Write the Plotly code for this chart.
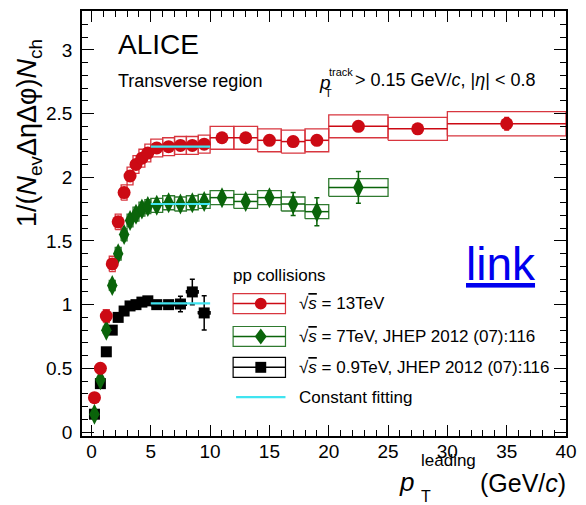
import plotly.graph_objects as go

# ---------------- data ----------------
# 13 TeV
x13 = [0.25, 0.75, 1.25, 1.75, 2.25, 2.75, 3.25, 3.75, 4.25, 4.75,
       5.5, 6.5, 7.5, 8.5, 9.5, 11, 13, 15, 17, 19, 22.5, 27.5, 35]
xw13 = [0.25]*10 + [0.5]*5 + [1.0]*5 + [2.5, 2.5, 5.0]
y13 = [0.27, 0.50, 0.91, 1.32, 1.65, 1.88, 2.01, 2.10, 2.15, 2.19,
       2.23, 2.24, 2.25, 2.25, 2.26, 2.31, 2.31, 2.29, 2.28, 2.29, 2.40, 2.38, 2.42]
stat13 = [0.01]*15 + [0.01, 0.01, 0.01, 0.01, 0.01, 0.02, 0.02, 0.05]
sys13 = [0.02, 0.03, 0.05, 0.06, 0.06, 0.06, 0.07, 0.07, 0.07, 0.07,
         0.07, 0.07, 0.07, 0.07, 0.07, 0.09, 0.09, 0.09, 0.09, 0.09, 0.09, 0.09, 0.095]

# 7 TeV
x7 = [0.25, 0.75, 1.25, 1.75, 2.25, 2.75, 3.25, 3.75, 4.25, 4.75,
      5.5, 6.5, 7.5, 8.5, 9.5, 11, 13, 15, 17, 19, 22.5]
xw7 = [0.25]*10 + [0.5]*5 + [1.0]*5 + [2.5]
y7 = [0.14, 0.41, 0.80, 1.15, 1.40, 1.55, 1.66, 1.71, 1.75, 1.77,
      1.78, 1.80, 1.79, 1.80, 1.81, 1.84, 1.81, 1.84, 1.79, 1.73, 1.92]
stat7 = [0.01]*15 + [0.03, 0.03, 0.04, 0.09, 0.11, 0.125]
sys7 = [0.01, 0.02, 0.03, 0.04, 0.05, 0.05, 0.05, 0.055, 0.055, 0.055,
        0.055, 0.055, 0.055, 0.055, 0.055, 0.055, 0.055, 0.055, 0.055, 0.055, 0.07]

# 0.9 TeV
x09 = [0.25, 0.75, 1.25, 1.75, 2.25, 2.75, 3.25, 3.75, 4.25, 4.75,
       5.5, 6.5, 7.5, 8.5, 9.5]
xw09 = [0.25]*10 + [0.5]*5
y09 = [0.14, 0.38, 0.63, 0.80, 0.90, 0.95, 0.99, 1.00, 1.02, 1.03,
       1.00, 1.00, 1.005, 1.10, 0.935]
stat09 = [0.01]*10 + [0.01, 0.02, 0.06, 0.10, 0.134]
sys09 = [0.01]*15

# constant fits (5-10 GeV/c)
fit_range = [5, 10]
fit_values = [2.24, 1.79, 1.01]

# ---------------- style ----------------
RED = "#cc0a14"
RED_BOX = "#d8363f"
GREEN = "#0a640a"
GREEN_BOX = "#2f7a2f"
BLACK = "#000000"
CYAN = "#40e4f0"
FONT = "Liberation Sans, Arial, Helvetica, sans-serif"

W, H = 586, 505
L, R, T, B = 82, 14, 9, 69
PW, PH = W - L - R, H - T - B


def xp(px):
    return (px - L) / PW


def yp(py):
    return (H - B - py) / PH


def box_path(xs, xw, ys, ss):
    bx, by = [], []
    for xc, w, yc, s in zip(xs, xw, ys, ss):
        bx += [xc - w, xc + w, xc + w, xc - w, xc - w, None]
        by += [yc - s, yc - s, yc + s, yc + s, yc - s, None]
    return bx, by


fig = go.Figure()

series = [
    (x09, xw09, y09, stat09, sys09, BLACK, BLACK, "square", 11),
    (x7, xw7, y7, stat7, sys7, GREEN, GREEN_BOX, "diamond-tall", 15),
    (x13, xw13, y13, stat13, sys13, RED, RED_BOX, "circle", 13),
]

for xs, xw, ys, st, sy, col, bcol, sym, sz in series:
    bx, by = box_path(xs, xw, ys, sy)
    fig.add_trace(go.Scatter(x=bx, y=by, mode="lines",
                             line=dict(color=bcol, width=1.3),
                             hoverinfo="skip", showlegend=False))

for xs, xw, ys, st, sy, col, bcol, sym, sz in series:
    fig.add_trace(go.Scatter(
        x=xs, y=ys, mode="markers",
        marker=dict(symbol=sym, size=sz, color=col, line=dict(width=0)),
        error_x=dict(type="data", array=xw, color=col, thickness=1.5, width=0),
        error_y=dict(type="data", array=st, color=col, thickness=1.5, width=2.5),
        showlegend=False))

for v in fit_values:
    fig.add_trace(go.Scatter(x=fit_range, y=[v, v], mode="lines",
                             line=dict(color=CYAN, width=2.2),
                             hoverinfo="skip", showlegend=False))

axis_common = dict(
    showline=True, linecolor="black", linewidth=1.5, mirror="allticks",
    ticks="inside", tickwidth=1.3, tickcolor="black",
    showgrid=False, zeroline=False,
    tickfont=dict(family=FONT, size=19, color="black"),
)

fig.update_xaxes(range=[-0.8, 40], dtick=5, tick0=0, ticklen=11,
                 minor=dict(dtick=1, ticklen=6, ticks="inside", tickcolor="black", tickwidth=1.2),
                 ticklabelstandoff=-3, **axis_common)
fig.update_yaxes(range=[-0.031, 3.305], dtick=0.5, tick0=0, ticklen=12,
                 minor=dict(dtick=0.1, ticklen=6, ticks="inside", tickcolor="black", tickwidth=1.2),
                 ticklabelstandoff=4, **axis_common)

ann = []


def text(px, py, s, size, xanchor="left", yanchor="middle", color="black", angle=0):
    ann.append(dict(x=xp(px), y=yp(py), xref="paper", yref="paper", text=s,
                    showarrow=False, xanchor=xanchor, yanchor=yanchor,
                    textangle=angle,
                    font=dict(family=FONT, size=size, color=color)))


text(116, 43, "ALICE", 28)
text(116, 79, "Transverse region", 18)
text(320, 81, "<i>p</i>", 19)
text(330, 70, "track", 11)
text(326, 91, "T", 11)
text(356, 78, "&gt; 0.15 GeV/<i>c</i>, |<i>η</i>| &lt; 0.8", 18)

# x title
text(401, 482, "<i>p</i>", 26)
text(423, 461, "leading", 17)
text(423, 497, "T", 16)
text(574, 483, "(GeV/<i>c</i>)", 25, xanchor="right")

# y title
text(29, 132, "1/(<i>N</i><sub>ev</sub>ΔηΔφ)<i>N</i><sub>ch</sub>", 27, xanchor="center", angle=-90)

# link
ann.append(dict(x=xp(506), y=yp(263), xref="paper", yref="paper",
                text="<a href='https://alice-publications.web.cern.ch/' style='color:#0000ee'><u>link</u></a>",
                showarrow=False, xanchor="center", yanchor="middle",
                font=dict(family=FONT, size=46, color="#0000ee")))

# legend
text(233, 275, "pp collisions", 17)
rows = [303, 336, 367, 397]
SQS = "√<span style='text-decoration:overline'><i>s</i></span>"
labels = [
    SQS + " = 13TeV",
    SQS + " = 7TeV, JHEP 2012 (07):116",
    SQS + " = 0.9TeV, JHEP 2012 (07):116",
    "Constant fitting",
]
for yy, lab in zip(rows, labels):
    text(300, yy, lab, 17)

shapes = []
leg_cols = [(RED, RED_BOX), (GREEN, GREEN_BOX), (BLACK, BLACK)]
for (col, bcol), yy in zip(leg_cols, rows[:3]):
    shapes.append(dict(type="rect", xref="paper", yref="paper",
                       x0=xp(235), x1=xp(288), y0=yp(yy + 10), y1=yp(yy - 10),
                       line=dict(color=bcol, width=1.2)))
    shapes.append(dict(type="line", xref="paper", yref="paper",
                       x0=xp(235), x1=xp(288), y0=yp(yy), y1=yp(yy),
                       line=dict(color=col, width=1.5)))
# legend markers
shapes.append(dict(type="circle", xref="paper", yref="paper",
                   x0=xp(257), x1=xp(269), y0=yp(rows[0] + 6), y1=yp(rows[0] - 6),
                   fillcolor=RED, line=dict(color=RED, width=0)))
cx, cy = xp(263), yp(rows[1])
dx, dy = 6 / PW, 8 / PH
shapes.append(dict(type="path", xref="paper", yref="paper",
                   path=f"M {cx-dx} {cy} L {cx} {cy+dy} L {cx+dx} {cy} L {cx} {cy-dy} Z",
                   fillcolor=GREEN, line=dict(color=GREEN, width=0)))
shapes.append(dict(type="rect", xref="paper", yref="paper",
                   x0=xp(257.5), x1=xp(268.5), y0=yp(rows[2] + 5.5), y1=yp(rows[2] - 5.5),
                   fillcolor=BLACK, line=dict(color=BLACK, width=0)))
shapes.append(dict(type="line", xref="paper", yref="paper",
                   x0=xp(238), x1=xp(288), y0=yp(rows[3]), y1=yp(rows[3]),
                   line=dict(color=CYAN, width=2.2)))

fig.update_layout(
    width=W, height=H,
    margin=dict(l=L, r=R, t=T, b=B, pad=0),
    paper_bgcolor="white", plot_bgcolor="white",
    annotations=ann, shapes=shapes,
    showlegend=False, hovermode=False,
    font=dict(family=FONT, color="black"),
)

fig.write_html(
    "out.html",
    config={"displayModeBar": False},
    post_script="document.body.style.margin='0px';document.body.style.overflow='hidden';",
)
